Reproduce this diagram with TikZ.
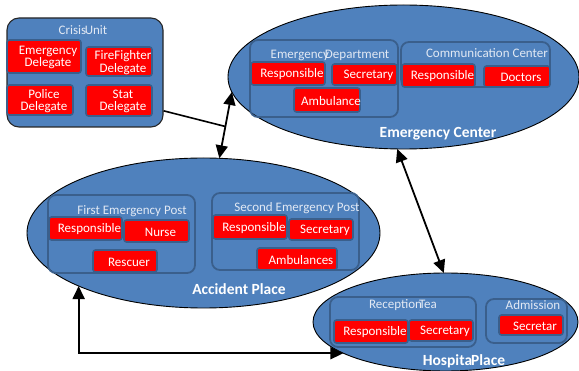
\documentclass[tikz,border=0pt]{standalone}
\usepackage{fontspec}
\setmainfont{Carlito}
\usetikzlibrary{shapes.geometric,arrows.meta,calc}

\definecolor{zoneblue}{HTML}{4F81BD}
\definecolor{edgeblue}{HTML}{3A5F8C}
\definecolor{titletext}{HTML}{E2E9F4}
\definecolor{memberred}{HTML}{FF0000}

\tikzset{
  zone/.style={ellipse, fill=zoneblue, draw=black, line width=0.9, inner sep=0, outer sep=0},
  unitbox/.style={rectangle, rounded corners=12, fill=zoneblue, draw=black!85, line width=1.1, inner sep=0},
  group/.style={rectangle, rounded corners=8, draw=edgeblue, line width=1.8, inner sep=0},
  membertext/.style={text=white, align=center, inner sep=0, xshift=4, yshift=-1,
                     font=\fontsize{13}{12.5}\selectfont},
  member/.style={rectangle, rounded corners=2.5, fill=memberred, draw=edgeblue, line width=1.6,
                 inner sep=0, label={[membertext]center:#1}},
  grouptitle/.style={text=titletext, inner sep=0, font=\fontsize{13}{14}\selectfont},
  zonetitle/.style={text=white, inner sep=0, font=\fontsize{15.5}{16}\bfseries},
  link/.style={line width=1.8, {Triangle[length=13pt,width=12pt]}-{Triangle[length=13pt,width=12pt]}},
  plainlink/.style={line width=1.6},
}

\begin{document}
\begin{tikzpicture}[x=1pt,y=-1pt]
\useasboundingbox (0,0) rectangle (579,371);

% ---- places ----
\node[zone, minimum width=351, minimum height=144] (ec) at (403.5,77) {};
\node[zone, minimum width=353, minimum height=150] (ap) at (203.5,233) {};
\node[zone, minimum width=265, minimum height=98]  (hp) at (445.5,322) {};

% ---- crisis unit ----
\node[unitbox, minimum width=156, minimum height=109] (cu) at (85,72.5) {};
\node[grouptitle] (cuT) at (83,30) {Crisis\kern-1.5pt Unit};
\node[member={Emergency\\Delegate},   minimum width=74, minimum height=33] (cuEmg)  at (44,56.5)  {};
\node[member={FireFighter\\Delegate}, minimum width=66, minimum height=29] (cuFire) at (119,61.5) {};
\node[member={Police\\Delegate},      minimum width=66, minimum height=30] (cuPol)  at (40,100)   {};
\node[member={Stat\\Delegate},        minimum width=66, minimum height=31] (cuStat) at (119,100.5){};

% ---- emergency center ----
\node[group, minimum width=148, minimum height=77] (ed) at (324,78.5) {};
\node[grouptitle] (edT) at (330,55) {Emergency\kern-4pt Department};
\node[member=Responsible, minimum width=74, minimum height=23] (edResp) at (288,73.5)   {};
\node[member=Secretary,   minimum width=65, minimum height=21] (edSec)  at (364.5,74.5) {};
\node[member=Ambulance,   minimum width=66, minimum height=24] (edAmb)  at (327,100)    {};

\node[group, minimum width=149, minimum height=45] (cc) at (475.5,64.5) {};
\node[grouptitle] (ccT) at (487,53) {Communication Center};
\node[member=Responsible, minimum width=73, minimum height=23] (ccResp) at (438.5,75.5) {};
\node[member=Doctors,     minimum width=66, minimum height=21] (ccDoc)  at (517,76.5)   {};

\node[zonetitle] (ecT) at (438,134) {Emergency Center};

% ---- accident place ----
\node[group, minimum width=147, minimum height=78] (fep) at (121.5,234) {};
\node[grouptitle] (fepT) at (132,211) {First Emergency Post};
\node[member=Responsible, minimum width=73, minimum height=23] (fepResp)  at (85.5,228.5) {};
\node[member=Nurse,       minimum width=65, minimum height=22] (fepNurse) at (156.5,231)  {};
\node[member=Rescuer,     minimum width=64, minimum height=22] (fepResc)  at (125,261)    {};

\node[group, minimum width=147, minimum height=77] (sep) at (285.5,231.5) {};
\node[grouptitle] (sepT) at (297,208) {Second Emergency Post};
\node[member=Responsible, minimum width=74, minimum height=24] (sepResp) at (250,227)   {};
\node[member=Secretary,   minimum width=64, minimum height=21] (sepSec)  at (321,229.5) {};
\node[member=Ambulances,  minimum width=80, minimum height=22] (sepAmb)  at (297,259)   {};

\node[zonetitle] (apT) at (239,289) {Accident Place};

% ---- hospital place ----
\node[group, minimum width=146, minimum height=50] (rt) at (403,322) {};
\node[grouptitle] (rtT) at (403,305) {Reception\kern-3pt Tea};
\node[member=Responsible, minimum width=74, minimum height=23] (rtResp) at (371,331.5) {};
\node[member=Secretary,   minimum width=64, minimum height=21] (rtSec)  at (441,330.5) {};

\node[group, minimum width=81, minimum height=44] (adm) at (526.5,321) {};
\node[grouptitle] (admT) at (533,305) {Admission};
\node[member=Secretar, minimum width=64, minimum height=20] (admSec) at (531,325) {};

\node[zonetitle] (hpT) at (464,361) {Hospita\kern-1pt Place};

% ---- connections ----
\draw[link] (ec.185) -- (ap.78);
\coordinate (join) at ($(ec.185)!0.52!(ap.78)$);
\draw[plainlink] (cu.334) -- (join);
\draw[link] (ec.265) -- (hp.92);
\draw[link] (ap.203) |- (hp.197);
\end{tikzpicture}
\end{document}
